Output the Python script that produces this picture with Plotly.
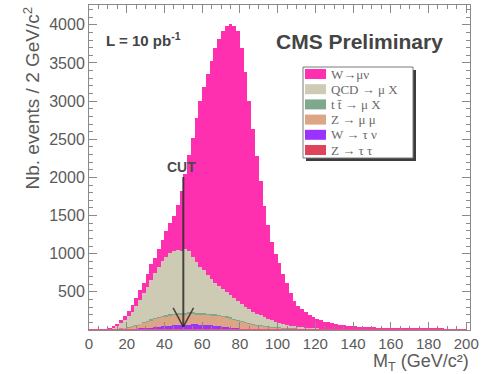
import plotly.graph_objects as go

# Transverse-mass histogram, 2 GeV/c^2 bins from 0 to 200
BIN_WIDTH = 2
bin_centers = [1 + 2 * i for i in range(100)]

# Event counts per bin for each process (stacked bottom -> top)
z_tautau = [
    0, 0, 0, 0, 1, 1, 2, 3, 4, 5,
    6, 7, 8, 9, 10, 11, 12, 12, 13, 13,
    13, 13, 12, 12, 11, 10, 9, 8, 7, 6,
    5, 5, 4, 4, 3, 3, 3, 2, 2, 2,
    2, 1, 1, 1, 1, 1, 1, 1, 1, 1,
    0, 0, 0, 0, 0, 0, 0, 0, 0, 0,
    0, 0, 0, 0, 0, 0, 0, 0, 0, 0,
    0, 0, 0, 0, 0, 0, 0, 0, 0, 0,
    0, 0, 0, 0, 0, 0, 0, 0, 0, 0,
    0, 0, 0, 0, 0, 0, 0, 0, 0, 0,
]
w_taunu = [
    0, 0, 0, 0, 0, 1, 1, 2, 3, 4,
    5, 7, 9, 11, 14, 17, 20, 24, 28, 33,
    38, 43, 48, 53, 57, 60, 63, 65, 66, 66,
    64, 61, 57, 52, 46, 40, 35, 30, 25, 21,
    17, 14, 11, 9, 7, 6, 5, 4, 3, 3,
    2, 2, 2, 1, 1, 1, 1, 0, 0, 0,
    0, 0, 0, 0, 0, 0, 0, 0, 0, 0,
    0, 0, 0, 0, 0, 0, 0, 0, 0, 0,
    0, 0, 0, 0, 0, 0, 0, 0, 0, 0,
    0, 0, 0, 0, 0, 0, 0, 0, 0, 0,
]
z_mumu = [
    0, 0, 1, 2, 3, 6, 7, 9, 12, 19,
    26, 32, 43, 59, 74, 84, 99, 109, 118, 127,
    131, 135, 140, 140, 141, 139, 142, 141, 136, 137,
    135, 134, 134, 134, 137, 133, 129, 120, 111, 100,
    90, 79, 73, 65, 55, 46, 41, 37, 34, 29,
    25, 22, 19, 16, 14, 12, 10, 9, 8, 7,
    6, 5, 5, 4, 4, 3, 3, 3, 2, 2,
    2, 2, 1, 1, 1, 1, 1, 1, 1, 1,
    1, 1, 1, 1, 1, 1, 1, 1, 1, 1,
    1, 1, 1, 1, 1, 1, 1, 1, 1, 1,
]
ttbar = [
    0, 0, 0, 0, 0, 0, 0, 1, 1, 2,
    3, 4, 5, 6, 7, 8, 9, 10, 11, 12,
    13, 14, 15, 15, 16, 16, 16, 16, 16, 16,
    16, 15, 15, 15, 14, 14, 13, 13, 12, 12,
    11, 11, 10, 10, 9, 9, 8, 8, 7, 7,
    6, 6, 5, 5, 5, 4, 4, 4, 3, 3,
    3, 3, 2, 2, 2, 2, 2, 2, 1, 1,
    1, 1, 1, 1, 1, 1, 1, 1, 1, 1,
    0, 0, 0, 0, 0, 0, 0, 0, 0, 0,
    0, 0, 0, 0, 0, 0, 0, 0, 0, 0,
]
qcd = [
    0, 0, 0, 0, 0, 7, 20, 40, 70, 100,
    140, 190, 245, 310, 375, 450, 520, 595, 660, 715,
    765, 805, 825, 830, 815, 835, 800, 730, 665, 605,
    560, 505, 460, 415, 380, 350, 320, 295, 270, 240,
    220, 195, 175, 155, 143, 133, 115, 100, 85, 70,
    61, 50, 42, 35, 30, 25, 21, 18, 15, 13,
    11, 9, 8, 7, 6, 5, 4, 4, 3, 3,
    3, 2, 2, 2, 2, 1, 1, 1, 1, 1,
    1, 1, 1, 1, 1, 1, 1, 1, 1, 1,
    1, 1, 1, 1, 1, 1, 1, 1, 1, 1,
]
w_munu = [
    2, 2, 3, 4, 6, 10, 15, 30, 40, 60,
    70, 90, 110, 125, 140, 160, 200, 200, 230, 280,
    340, 390, 460, 590, 780, 990, 1270, 1560, 1890, 2170,
    2400, 2640, 2850, 3080, 3240, 3380, 3490, 3550, 3560, 3545,
    3360, 3080, 2730, 2400, 2065, 1755, 1450, 1230, 1030, 890,
    785, 660, 550, 422, 329, 278, 234, 199, 174, 147,
    125, 108, 95, 87, 78, 70, 63, 56, 52, 46,
    42, 39, 36, 33, 31, 30, 28, 27, 25, 24,
    22, 21, 20, 19, 18, 17, 16, 15, 15, 14,
    13, 13, 12, 12, 11, 11, 10, 10, 9, 9,
]

# Stacking order, bottom to top
process_names = ["Z → τ τ", "W → τ ν", "Z → μ μ", "t t\u0304 → μ X", "QCD → μ X", "W→μν"]
process_counts = [z_tautau, w_taunu, z_mumu, ttbar, qcd, w_munu]
process_colors = ["#e04458", "#9a33ff", "#dca586", "#80a88c", "#cecbb4", "#ff30b0"]

# Selection cut on the transverse mass
CUT_MT = 50
CUT_TOP = 2005
CUT_BOTTOM = 40
CUT_HEAD_HALF = 5.4
CUT_HEAD_Y = 290

# Plot-area geometry in pixels (used to place the boxed legend)
FIG_W, FIG_H = 493, 374
M_L, M_R, M_T, M_B = 89, 23, 5, 44
PLOT_W = FIG_W - M_L - M_R
PLOT_H = FIG_H - M_T - M_B


def px_x(px):
    return (px - M_L) / PLOT_W


def px_y(py):
    return (FIG_H - M_B - py) / PLOT_H


fig = go.Figure()
for name, counts, color in zip(process_names, process_counts, process_colors):
    fig.add_trace(go.Bar(
        x=bin_centers, y=counts, width=BIN_WIDTH, name=name,
        marker=dict(color=color, line=dict(width=0)),
        showlegend=False,
    ))

LABEL_FAMILY = "Liberation Sans, Arial, sans-serif"
AXIS_COLOR = "#8a8a8a"

fig.update_layout(
    width=FIG_W, height=FIG_H,
    margin=dict(l=M_L, r=M_R, t=M_T, b=M_B),
    paper_bgcolor="white", plot_bgcolor="white",
    barmode="stack", bargap=0,
    xaxis=dict(
        range=[0, 202], showgrid=False, zeroline=False,
        showline=True, linecolor=AXIS_COLOR, linewidth=1, mirror="allticks",
        ticks="inside", ticklen=8, tickcolor=AXIS_COLOR,
        tickvals=list(range(0, 201, 20)),
        tickfont=dict(family=LABEL_FAMILY, size=15, color="#5a5a5a"),
        minor=dict(ticks="inside", ticklen=4, dtick=5, tickcolor=AXIS_COLOR),
    ),
    yaxis=dict(
        range=[0, 4260], showgrid=False, zeroline=False,
        showline=True, linecolor=AXIS_COLOR, linewidth=1, mirror="allticks",
        ticks="inside", ticklen=8, tickcolor=AXIS_COLOR,
        tickvals=list(range(500, 4001, 500)),
        tickfont=dict(family=LABEL_FAMILY, size=16, color="#5a5a5a"),
        minor=dict(ticks="inside", ticklen=4, dtick=100, tickcolor=AXIS_COLOR),
    ),
)

# Histogram outline along the baseline
fig.add_shape(type="line", x0=0, x1=200, y0=0, y1=0,
              line=dict(color="#f0508a", width=2), layer="above")

# Boxed legend with a drop shadow, entries listed top (W→μν) to bottom
LEG_X0, LEG_X1, LEG_Y0, LEG_Y1 = 303, 413, 67, 158
SHADOW = 3
fig.add_shape(type="rect", xref="paper", yref="paper",
              x0=px_x(LEG_X0 + SHADOW), x1=px_x(LEG_X1 + SHADOW),
              y0=px_y(LEG_Y0 + SHADOW), y1=px_y(LEG_Y1 + SHADOW),
              fillcolor="#3c3c3c", line=dict(width=0), layer="above")
fig.add_shape(type="rect", xref="paper", yref="paper",
              x0=px_x(LEG_X0), x1=px_x(LEG_X1), y0=px_y(LEG_Y0), y1=px_y(LEG_Y1),
              fillcolor="white", line=dict(color="#7a7a7a", width=1), layer="above")
ROW_H = 15.2
for k, idx in enumerate(reversed(range(len(process_names)))):
    yc = LEG_Y0 + 7 + k * ROW_H
    fig.add_shape(type="rect", xref="paper", yref="paper",
                  x0=px_x(LEG_X0 + 2), x1=px_x(LEG_X0 + 23),
                  y0=px_y(yc - 5), y1=px_y(yc + 5),
                  fillcolor=process_colors[idx], line=dict(width=0), layer="above")
    fig.add_annotation(xref="paper", yref="paper", x=px_x(LEG_X0 + 26), y=px_y(yc),
                       xanchor="left", yanchor="middle", showarrow=False,
                       text=process_names[idx],
                       font=dict(family="Liberation Serif, Times New Roman, serif",
                                 size=13, color="#6a6a6a"))

# Cut marker: vertical arrow with open head
arrow_color = "rgba(45,45,45,0.85)"
fig.add_shape(type="line", x0=CUT_MT, x1=CUT_MT, y0=CUT_TOP, y1=CUT_BOTTOM,
              line=dict(color=arrow_color, width=2))
fig.add_shape(type="line", x0=CUT_MT - CUT_HEAD_HALF, x1=CUT_MT, y0=CUT_HEAD_Y, y1=CUT_BOTTOM,
              line=dict(color=arrow_color, width=1.5))
fig.add_shape(type="line", x0=CUT_MT + CUT_HEAD_HALF, x1=CUT_MT, y0=CUT_HEAD_Y, y1=CUT_BOTTOM,
              line=dict(color=arrow_color, width=1.5))
fig.add_annotation(x=CUT_MT - 1.0, y=CUT_TOP + 130, text="<b>CUT</b>", showarrow=False,
                   font=dict(family=LABEL_FAMILY, size=14, color="#4a4a4a"))

# Titles and labels
fig.add_annotation(xref="paper", yref="paper", x=px_x(31), y=1.0, xanchor="center", yanchor="top",
                   textangle=-90, showarrow=False,
                   text="Nb. events / 2 GeV/c<sup>2</sup>",
                   font=dict(family=LABEL_FAMILY, size=19, color="#5a5a5a"))
fig.add_annotation(xref="paper", yref="paper", x=1.0, y=px_y(375), xanchor="right", yanchor="bottom",
                   showarrow=False, text="M<sub>T</sub> (GeV/c²)", borderpad=0,
                   font=dict(family=LABEL_FAMILY, size=18, color="#5a5a5a"))
fig.add_annotation(xref="paper", yref="paper", x=px_x(104), y=px_y(39), xanchor="left", yanchor="middle",
                   showarrow=False, text="<b>L = 10 pb<sup>-1</sup></b>",
                   font=dict(family=LABEL_FAMILY, size=15, color="#444444"))
fig.add_annotation(xref="paper", yref="paper", x=px_x(274), y=px_y(42), xanchor="left", yanchor="middle",
                   showarrow=False, text="<b>CMS Preliminary</b>",
                   font=dict(family=LABEL_FAMILY, size=21, color="#444444"))

fig.write_html("out.html")
